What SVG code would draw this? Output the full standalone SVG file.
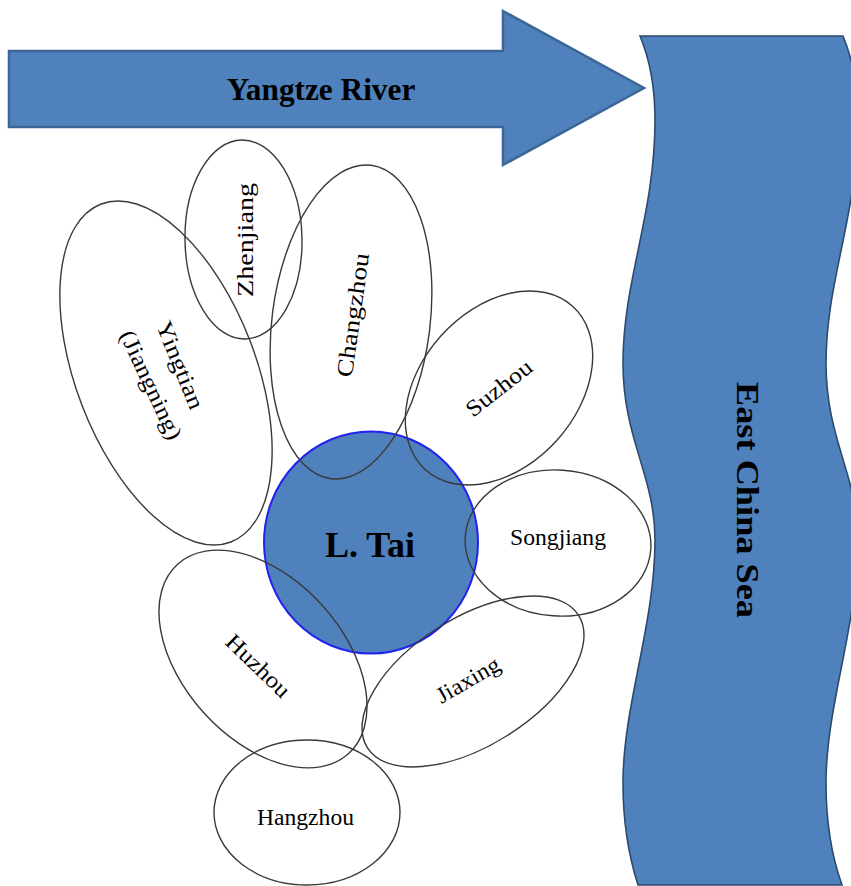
<svg xmlns="http://www.w3.org/2000/svg" width="851" height="886" viewBox="0 0 851 886">
<style>
.e{fill:none;stroke:#3a3a3a;stroke-width:1.4}
.b{fill:#4f81bd;stroke:#2c4a6e;stroke-width:1.6}
text{font-family:"Liberation Serif",serif;fill:#000;text-anchor:middle;dominant-baseline:central}
.s{font-size:23px}
.l{font-size:36px;font-weight:bold}
</style>
<rect width="851" height="886" fill="#fff"/>
<g id="yangtze"><path class="b" d="M9 51H503V11L644 88L503 165V127H9Z" style="stroke:#3d6596;stroke-width:2.5"/><text class="l" x="321" y="89" style="font-size:31.3px">Yangtze River</text></g>
<g id="sea"><path class="b" d="M640 36C650 60 655 90 655 120C655 215 623 280 623 363C623 440 655 475 655 540C655 625 623 705 623 783C623 825 630 860 638 885H842C833 860 826 825 826 783C826 705 858 625 858 540C858 475 826 440 826 363C826 280 858 215 858 120C858 90 853 60 843 36Z"/><text class="l" transform="translate(748 500) rotate(90)" style="font-size:32px" textLength="236" lengthAdjust="spacingAndGlyphs">East China Sea</text></g>
<g id="tai"><ellipse cx="371" cy="542.5" rx="107" ry="111" fill="#4f81bd" stroke="#2222f0" stroke-width="2"/><text class="l" x="370" y="545">L. Tai</text></g>
<g id="yingtian"><ellipse class="e" cx="166" cy="373" rx="90" ry="181" transform="rotate(-21 166 373)"/><text class="s" transform="translate(180 365) rotate(68)" textLength="93" lengthAdjust="spacingAndGlyphs">Yingtian</text><text class="s" transform="translate(151 385) rotate(65)" textLength="118" lengthAdjust="spacingAndGlyphs">(Jiangning)</text></g>
<g id="zhenjiang"><ellipse class="e" cx="243.5" cy="239.5" rx="58.5" ry="99.5" transform="rotate(-1 243.5 239.5)"/><text class="s" transform="translate(245 240) rotate(-90)" textLength="114" lengthAdjust="spacingAndGlyphs">Zhenjiang</text></g>
<g id="changzhou"><ellipse class="e" cx="351" cy="322" rx="79" ry="158" transform="rotate(7.3 351 322)"/><text class="s" transform="translate(353 315) rotate(-82)" textLength="125" lengthAdjust="spacingAndGlyphs">Changzhou</text></g>
<g id="suzhou"><ellipse class="e" cx="499" cy="388" rx="78" ry="110" transform="rotate(42 499 388)"/><text class="s" transform="translate(499 388) rotate(-38)" textLength="78" lengthAdjust="spacingAndGlyphs">Suzhou</text></g>
<g id="songjiang"><ellipse class="e" cx="558" cy="543" rx="93" ry="73" transform="rotate(4 558 543)"/><text class="s" x="558" y="537" textLength="96" lengthAdjust="spacingAndGlyphs">Songjiang</text></g>
<g id="jiaxing"><ellipse class="e" cx="473" cy="681.5" rx="124.6" ry="64" transform="rotate(-32 473 681.5)"/><text class="s" transform="translate(468 680) rotate(-30)" textLength="70" lengthAdjust="spacingAndGlyphs">Jiaxing</text></g>
<g id="huzhou"><ellipse class="e" cx="263" cy="659" rx="80" ry="127.6" transform="rotate(-42 263 659)"/><text class="s" transform="translate(258 666) rotate(44)" textLength="80" lengthAdjust="spacingAndGlyphs">Huzhou</text></g>
<g id="hangzhou"><ellipse class="e" cx="307" cy="812.5" rx="93" ry="72.5"/><text class="s" x="305.5" y="817" textLength="97" lengthAdjust="spacingAndGlyphs">Hangzhou</text></g>
</svg>
